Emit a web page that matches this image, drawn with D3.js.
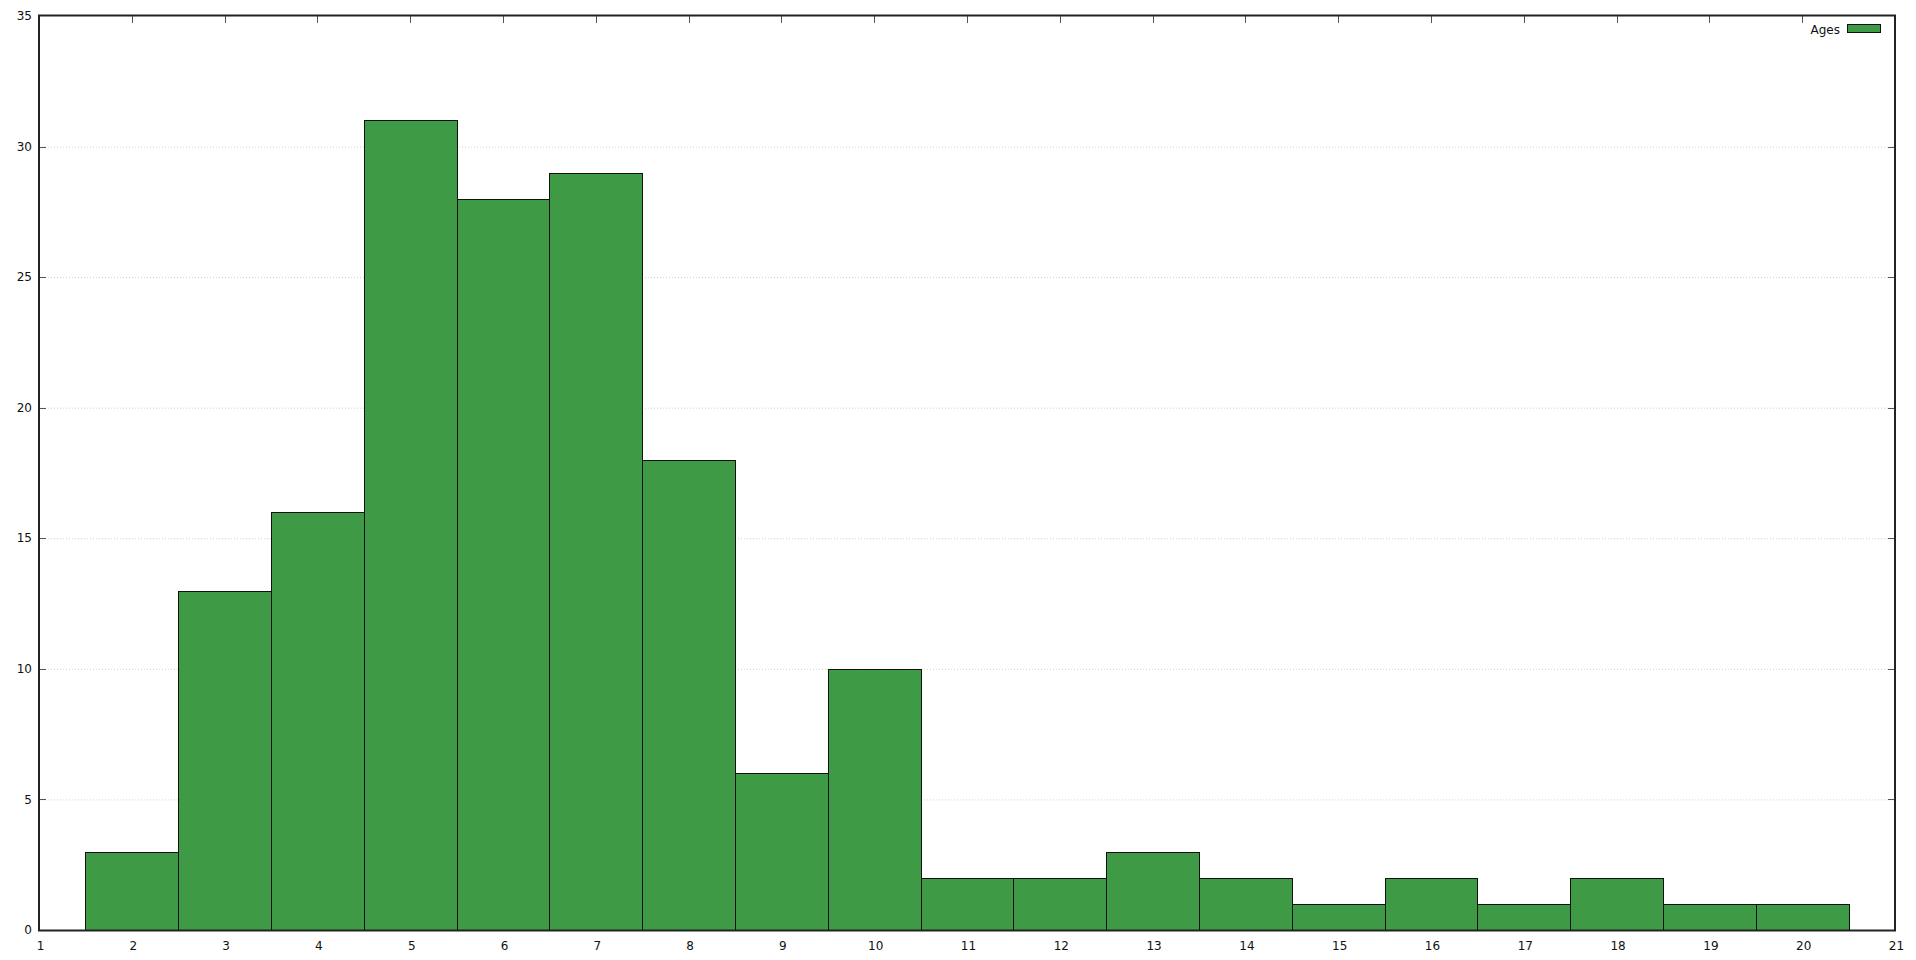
<!DOCTYPE html>
<html>
<head>
<meta charset="utf-8">
<script src="https://cdn.jsdelivr.net/npm/d3@7"></script>
<style>
html,body{margin:0;padding:0;background:#fff;}
svg{display:block;font-family:"DejaVu Sans",sans-serif;}
</style>
</head>
<body>
<svg id="chart" width="1916" height="960"></svg>
<script>
const ages = [2,3,4,5,6,7,8,9,10,11,12,13,14,15,16,17,18,19,20];
const counts = [3,13,16,31,28,29,18,6,10,2,2,3,2,1,2,1,2,1,1];
const xTicks = [1,2,3,4,5,6,7,8,9,10,11,12,13,14,15,16,17,18,19,20,21];
const yTicks = [0,5,10,15,20,25,30,35];
const seriesName = "Ages";

const L = 39, R = 1895, T = 16, B = 930;
const svg = d3.select("#chart");
const x = d3.scaleLinear().domain([1,21]).range([L,R]);
const y = d3.scaleLinear().domain([0,35]).range([B,T]);

// grid
svg.append("g").selectAll("line").data(yTicks.filter(d=>d>0&&d<35)).join("line")
  .attr("x1",L).attr("x2",R).attr("y1",d=>y(d)+0.5).attr("y2",d=>y(d)+0.5)
  .attr("stroke","#d0d0d0").attr("stroke-width",1).attr("stroke-dasharray","1,2");

// ticks (inward, all four sides)
const tl = 7;
const tg = svg.append("g").attr("stroke","#555").attr("stroke-width",1);
xTicks.slice(1,-1).forEach(v=>{
  const px = Math.round(x(v))+0.5;
  tg.append("line").attr("x1",px).attr("x2",px).attr("y1",T).attr("y2",T+tl);
  tg.append("line").attr("x1",px).attr("x2",px).attr("y1",B).attr("y2",B-tl);
});
yTicks.slice(1,-1).forEach(v=>{
  const py = Math.round(y(v))+0.5;
  tg.append("line").attr("x1",L).attr("x2",L+tl).attr("y1",py).attr("y2",py);
  tg.append("line").attr("x1",R).attr("x2",R-tl).attr("y1",py).attr("y2",py);
});

// bars
svg.append("g").selectAll("rect").data(ages).join("rect")
  .attr("x",(d)=>Math.round(x(d-0.5))+0.5)
  .attr("width",(d)=>Math.round(x(d+0.5))-Math.round(x(d-0.5)))
  .attr("y",(d,i)=>Math.round(y(counts[i]))+0.5)
  .attr("height",(d,i)=>Math.round(y(0))-Math.round(y(counts[i])))
  .attr("fill","#3f9a45").attr("stroke","#111").attr("stroke-width",1);

// frame
svg.append("rect").attr("x",L).attr("y",T-0.5).attr("width",R-L).attr("height",B-T+1)
  .attr("fill","none").attr("stroke","#222").attr("stroke-width",2);

// axis labels
svg.append("g").selectAll("text").data(yTicks).join("text")
  .attr("x",L-7).attr("y",d=>y(d)).attr("dy","0.35em").attr("text-anchor","end")
  .attr("font-size",12).attr("fill","#111").text(d=>d);
svg.append("g").selectAll("text").data(xTicks).join("text")
  .attr("x",d=>x(d)+1.5).attr("y",B+16).attr("dy","0.35em").attr("text-anchor","middle")
  .attr("font-size",12).attr("fill","#111").text(d=>d);

// legend
svg.append("text").attr("x",1840).attr("y",30).attr("dy","0.35em").attr("text-anchor","end")
  .attr("font-size",12).attr("fill","#111").text(seriesName);
svg.append("rect").attr("x",1847.5).attr("y",24.5).attr("width",33).attr("height",8)
  .attr("fill","#3f9a45").attr("stroke","#111").attr("stroke-width",1);
</script>
</body>
</html>
